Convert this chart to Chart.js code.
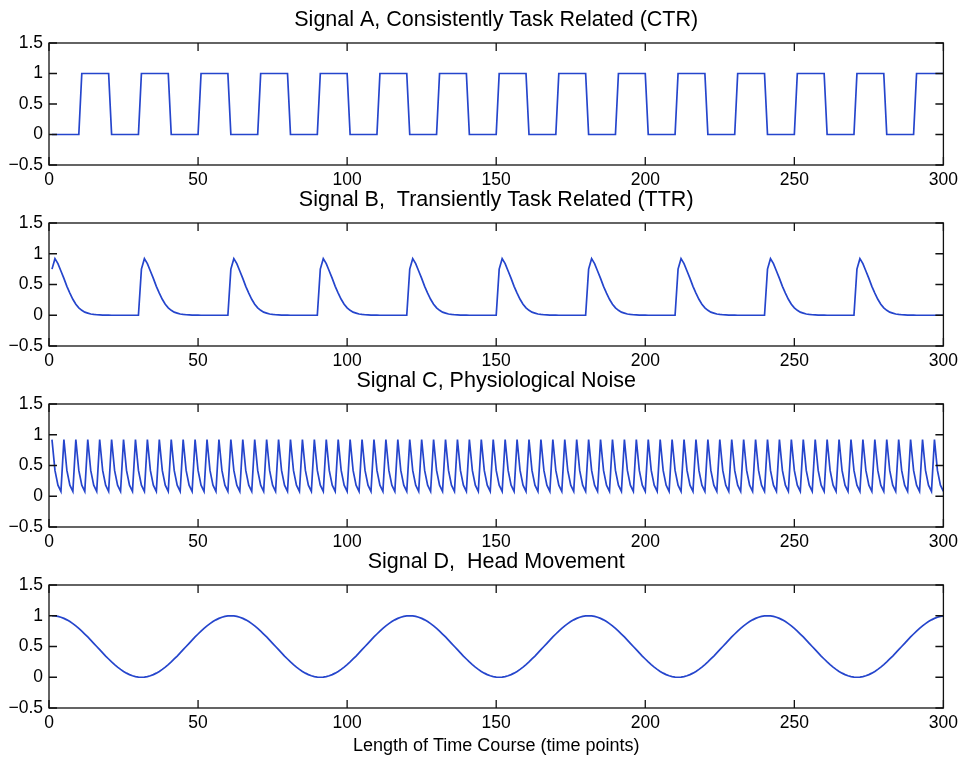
<!DOCTYPE html>
<html>
<head>
<meta charset="utf-8">
<title>Signal time courses</title>
<script src="https://cdn.jsdelivr.net/npm/chart.js@4.4.1/dist/chart.umd.min.js"></script>
<style>
  html, body { margin: 0; padding: 0; background: #fff; }
  #wrap { position: relative; width: 963px; height: 757px; overflow: hidden; }
  #wrap canvas { position: absolute; left: 0; }
</style>
</head>
<body>
<div id="wrap">
  <canvas id="signalA"></canvas>
  <canvas id="signalB"></canvas>
  <canvas id="signalC"></canvas>
  <canvas id="signalD"></canvas>
</div>
<script>
// time points 1..300
const timePoints = Array.from({ length: 300 }, (_, i) => i + 1);
const xTicks = [0, 50, 100, 150, 200, 250, 300];
const yTicks = [-0.5, 0, 0.5, 1, 1.5];

const titles = [
    'Signal A, Consistently Task Related (CTR)',
    'Signal B,  Transiently Task Related (TTR)',
    'Signal C, Physiological Noise',
    'Signal D,  Head Movement'
];
const xAxisLabel = 'Length of Time Course (time points)';

// CTR: on/off blocks of 10 time points
const signalA = [
    0,0,0,0,0,0,0,0,0,0, 1,1,1,1,1,1,1,1,1,1,
    0,0,0,0,0,0,0,0,0,0, 1,1,1,1,1,1,1,1,1,1,
    0,0,0,0,0,0,0,0,0,0, 1,1,1,1,1,1,1,1,1,1,
    0,0,0,0,0,0,0,0,0,0, 1,1,1,1,1,1,1,1,1,1,
    0,0,0,0,0,0,0,0,0,0, 1,1,1,1,1,1,1,1,1,1,
    0,0,0,0,0,0,0,0,0,0, 1,1,1,1,1,1,1,1,1,1,
    0,0,0,0,0,0,0,0,0,0, 1,1,1,1,1,1,1,1,1,1,
    0,0,0,0,0,0,0,0,0,0, 1,1,1,1,1,1,1,1,1,1,
    0,0,0,0,0,0,0,0,0,0, 1,1,1,1,1,1,1,1,1,1,
    0,0,0,0,0,0,0,0,0,0, 1,1,1,1,1,1,1,1,1,1,
    0,0,0,0,0,0,0,0,0,0, 1,1,1,1,1,1,1,1,1,1,
    0,0,0,0,0,0,0,0,0,0, 1,1,1,1,1,1,1,1,1,1,
    0,0,0,0,0,0,0,0,0,0, 1,1,1,1,1,1,1,1,1,1,
    0,0,0,0,0,0,0,0,0,0, 1,1,1,1,1,1,1,1,1,1,
    0,0,0,0,0,0,0,0,0,0, 1,1,1,1,1,1,1,1,1,1
];

// TTR: short response at the start of every 30-point trial
const signalB = [
    0.75,0.92,0.84,0.72,0.60,0.47,0.36,0.26,0.18,0.12,0.08,0.05,0.035,0.02,0.013,0.008,0.005,0.003,0.002,0.001,0,0,0,0,0,0,0,0,0,0,
    0.75,0.92,0.84,0.72,0.60,0.47,0.36,0.26,0.18,0.12,0.08,0.05,0.035,0.02,0.013,0.008,0.005,0.003,0.002,0.001,0,0,0,0,0,0,0,0,0,0,
    0.75,0.92,0.84,0.72,0.60,0.47,0.36,0.26,0.18,0.12,0.08,0.05,0.035,0.02,0.013,0.008,0.005,0.003,0.002,0.001,0,0,0,0,0,0,0,0,0,0,
    0.75,0.92,0.84,0.72,0.60,0.47,0.36,0.26,0.18,0.12,0.08,0.05,0.035,0.02,0.013,0.008,0.005,0.003,0.002,0.001,0,0,0,0,0,0,0,0,0,0,
    0.75,0.92,0.84,0.72,0.60,0.47,0.36,0.26,0.18,0.12,0.08,0.05,0.035,0.02,0.013,0.008,0.005,0.003,0.002,0.001,0,0,0,0,0,0,0,0,0,0,
    0.75,0.92,0.84,0.72,0.60,0.47,0.36,0.26,0.18,0.12,0.08,0.05,0.035,0.02,0.013,0.008,0.005,0.003,0.002,0.001,0,0,0,0,0,0,0,0,0,0,
    0.75,0.92,0.84,0.72,0.60,0.47,0.36,0.26,0.18,0.12,0.08,0.05,0.035,0.02,0.013,0.008,0.005,0.003,0.002,0.001,0,0,0,0,0,0,0,0,0,0,
    0.75,0.92,0.84,0.72,0.60,0.47,0.36,0.26,0.18,0.12,0.08,0.05,0.035,0.02,0.013,0.008,0.005,0.003,0.002,0.001,0,0,0,0,0,0,0,0,0,0,
    0.75,0.92,0.84,0.72,0.60,0.47,0.36,0.26,0.18,0.12,0.08,0.05,0.035,0.02,0.013,0.008,0.005,0.003,0.002,0.001,0,0,0,0,0,0,0,0,0,0,
    0.75,0.92,0.84,0.72,0.60,0.47,0.36,0.26,0.18,0.12,0.08,0.05,0.035,0.02,0.013,0.008,0.005,0.003,0.002,0.001,0,0,0,0,0,0,0,0,0,0
];

// physiological noise: fast pulses, 4 points apart
const signalC = [
    0.92,0.42,0.18,0.08, 0.92,0.42,0.18,0.08, 0.92,0.42,0.18,0.08, 0.92,0.42,0.18,0.08, 0.92,0.42,0.18,0.08,
    0.92,0.42,0.18,0.08, 0.92,0.42,0.18,0.08, 0.92,0.42,0.18,0.08, 0.92,0.42,0.18,0.08, 0.92,0.42,0.18,0.08,
    0.92,0.42,0.18,0.08, 0.92,0.42,0.18,0.08, 0.92,0.42,0.18,0.08, 0.92,0.42,0.18,0.08, 0.92,0.42,0.18,0.08,
    0.92,0.42,0.18,0.08, 0.92,0.42,0.18,0.08, 0.92,0.42,0.18,0.08, 0.92,0.42,0.18,0.08, 0.92,0.42,0.18,0.08,
    0.92,0.42,0.18,0.08, 0.92,0.42,0.18,0.08, 0.92,0.42,0.18,0.08, 0.92,0.42,0.18,0.08, 0.92,0.42,0.18,0.08,
    0.92,0.42,0.18,0.08, 0.92,0.42,0.18,0.08, 0.92,0.42,0.18,0.08, 0.92,0.42,0.18,0.08, 0.92,0.42,0.18,0.08,
    0.92,0.42,0.18,0.08, 0.92,0.42,0.18,0.08, 0.92,0.42,0.18,0.08, 0.92,0.42,0.18,0.08, 0.92,0.42,0.18,0.08,
    0.92,0.42,0.18,0.08, 0.92,0.42,0.18,0.08, 0.92,0.42,0.18,0.08, 0.92,0.42,0.18,0.08, 0.92,0.42,0.18,0.08,
    0.92,0.42,0.18,0.08, 0.92,0.42,0.18,0.08, 0.92,0.42,0.18,0.08, 0.92,0.42,0.18,0.08, 0.92,0.42,0.18,0.08,
    0.92,0.42,0.18,0.08, 0.92,0.42,0.18,0.08, 0.92,0.42,0.18,0.08, 0.92,0.42,0.18,0.08, 0.92,0.42,0.18,0.08,
    0.92,0.42,0.18,0.08, 0.92,0.42,0.18,0.08, 0.92,0.42,0.18,0.08, 0.92,0.42,0.18,0.08, 0.92,0.42,0.18,0.08,
    0.92,0.42,0.18,0.08, 0.92,0.42,0.18,0.08, 0.92,0.42,0.18,0.08, 0.92,0.42,0.18,0.08, 0.92,0.42,0.18,0.08,
    0.92,0.42,0.18,0.08, 0.92,0.42,0.18,0.08, 0.92,0.42,0.18,0.08, 0.92,0.42,0.18,0.08, 0.92,0.42,0.18,0.08,
    0.92,0.42,0.18,0.08, 0.92,0.42,0.18,0.08, 0.92,0.42,0.18,0.08, 0.92,0.42,0.18,0.08, 0.92,0.42,0.18,0.08,
    0.92,0.42,0.18,0.08, 0.92,0.42,0.18,0.08, 0.92,0.42,0.18,0.08, 0.92,0.42,0.18,0.08, 0.92,0.42,0.18,0.08
];

// head movement: slow drift, 60 points per cycle
const signalD = [
    1.000,0.997,0.989,0.976,0.957,0.933,0.905,0.872,0.835,0.794,0.750,0.703,0.655,0.604,0.552,0.500,0.448,0.396,0.345,0.297,
    0.250,0.206,0.165,0.128,0.095,0.067,0.043,0.024,0.011,0.003,0.000,0.003,0.011,0.024,0.043,0.067,0.095,0.128,0.165,0.206,
    0.250,0.297,0.345,0.396,0.448,0.500,0.552,0.604,0.655,0.703,0.750,0.794,0.835,0.872,0.905,0.933,0.957,0.976,0.989,0.997,
    1.000,0.997,0.989,0.976,0.957,0.933,0.905,0.872,0.835,0.794,0.750,0.703,0.655,0.604,0.552,0.500,0.448,0.396,0.345,0.297,
    0.250,0.206,0.165,0.128,0.095,0.067,0.043,0.024,0.011,0.003,0.000,0.003,0.011,0.024,0.043,0.067,0.095,0.128,0.165,0.206,
    0.250,0.297,0.345,0.396,0.448,0.500,0.552,0.604,0.655,0.703,0.750,0.794,0.835,0.872,0.905,0.933,0.957,0.976,0.989,0.997,
    1.000,0.997,0.989,0.976,0.957,0.933,0.905,0.872,0.835,0.794,0.750,0.703,0.655,0.604,0.552,0.500,0.448,0.396,0.345,0.297,
    0.250,0.206,0.165,0.128,0.095,0.067,0.043,0.024,0.011,0.003,0.000,0.003,0.011,0.024,0.043,0.067,0.095,0.128,0.165,0.206,
    0.250,0.297,0.345,0.396,0.448,0.500,0.552,0.604,0.655,0.703,0.750,0.794,0.835,0.872,0.905,0.933,0.957,0.976,0.989,0.997,
    1.000,0.997,0.989,0.976,0.957,0.933,0.905,0.872,0.835,0.794,0.750,0.703,0.655,0.604,0.552,0.500,0.448,0.396,0.345,0.297,
    0.250,0.206,0.165,0.128,0.095,0.067,0.043,0.024,0.011,0.003,0.000,0.003,0.011,0.024,0.043,0.067,0.095,0.128,0.165,0.206,
    0.250,0.297,0.345,0.396,0.448,0.500,0.552,0.604,0.655,0.703,0.750,0.794,0.835,0.872,0.905,0.933,0.957,0.976,0.989,0.997,
    1.000,0.997,0.989,0.976,0.957,0.933,0.905,0.872,0.835,0.794,0.750,0.703,0.655,0.604,0.552,0.500,0.448,0.396,0.345,0.297,
    0.250,0.206,0.165,0.128,0.095,0.067,0.043,0.024,0.011,0.003,0.000,0.003,0.011,0.024,0.043,0.067,0.095,0.128,0.165,0.206,
    0.250,0.297,0.345,0.396,0.448,0.500,0.552,0.604,0.655,0.703,0.750,0.794,0.835,0.872,0.905,0.933,0.957,0.976,0.989,0.997
];

const LINE_COLOR = '#2545cc';
const TICK_LEN = 8;

Chart.defaults.font.family = '"Liberation Sans", Arial, Helvetica, sans-serif';
Chart.defaults.color = '#000';

// box around the plot area with inward ticks on all four sides
const axesFrame = {
    id: 'axesFrame',
    afterDraw(chart) {
        const { ctx, chartArea: a, scales: { x, y } } = chart;
        ctx.save();
        ctx.strokeStyle = '#111';
        ctx.lineWidth = 1.3;
        ctx.strokeRect(a.left, a.top, a.right - a.left, a.bottom - a.top);
        ctx.beginPath();
        xTicks.forEach(v => {
            const px = x.getPixelForValue(v);
            ctx.moveTo(px, a.bottom); ctx.lineTo(px, a.bottom - TICK_LEN);
            ctx.moveTo(px, a.top); ctx.lineTo(px, a.top + TICK_LEN);
        });
        yTicks.forEach(v => {
            const py = y.getPixelForValue(v);
            ctx.moveTo(a.left, py); ctx.lineTo(a.left + TICK_LEN, py);
            ctx.moveTo(a.right, py); ctx.lineTo(a.right - TICK_LEN, py);
        });
        ctx.stroke();
        ctx.restore();
    }
};

function formatY(value) {
    return value < 0 ? '\u2212' + Math.abs(value) : String(value);
}

// panel: canvas top offset, plot height, x axis block height
function renderPanel(id, title, values, top, plotHeight, axisHeight, withXLabel) {
    const canvas = document.getElementById(id);
    const height = 43 + plotHeight + axisHeight;
    canvas.width = 963;
    canvas.height = height;
    canvas.style.top = top + 'px';
    canvas.style.width = '963px';
    canvas.style.height = height + 'px';

    new Chart(canvas, {
        type: 'line',
        data: {
            datasets: [{
                data: values.map((v, i) => ({ x: timePoints[i], y: v })),
                borderColor: LINE_COLOR,
                borderWidth: 1.7,
                pointRadius: 0,
                tension: 0,
                fill: false
            }]
        },
        options: {
            responsive: false,
            animation: false,
            devicePixelRatio: 1,
            layout: { padding: { left: 0, right: 18, top: 0, bottom: 0 } },
            plugins: {
                legend: { display: false },
                tooltip: { enabled: false },
                title: {
                    display: true,
                    text: title,
                    fullSize: false,
                    color: '#000',
                    font: { size: 21.5, weight: 'normal', lineHeight: 1.2 },
                    padding: { top: 7.5, bottom: 9.7 }
                }
            },
            scales: {
                x: {
                    type: 'linear',
                    min: 0,
                    max: 300,
                    afterBuildTicks: s => { s.ticks = xTicks.map(v => ({ value: v })); },
                    ticks: { padding: 5, maxRotation: 0, font: { size: 17.5 }, color: '#000' },
                    grid: { display: false, drawTicks: false },
                    border: { display: false },
                    title: {
                        display: withXLabel,
                        text: xAxisLabel,
                        color: '#000',
                        font: { size: 18 },
                        padding: { top: 0, bottom: 0 }
                    },
                    afterFit: s => { s.height = axisHeight; }
                },
                y: {
                    min: -0.5,
                    max: 1.5,
                    afterBuildTicks: s => { s.ticks = yTicks.map(v => ({ value: v })); },
                    ticks: { padding: 6, font: { size: 17.5 }, color: '#000', callback: formatY },
                    grid: { display: false, drawTicks: false },
                    border: { display: false },
                    afterFit: s => { s.width = 49; }
                }
            }
        },
        plugins: [axesFrame]
    });
}

renderPanel('signalA', titles[0], signalA, 0, 122, 30, false);
renderPanel('signalB', titles[1], signalB, 180, 123, 30, false);
renderPanel('signalC', titles[2], signalC, 361, 123, 30, false);
renderPanel('signalD', titles[3], signalD, 542, 123, 49, true);
</script>
</body>
</html>
